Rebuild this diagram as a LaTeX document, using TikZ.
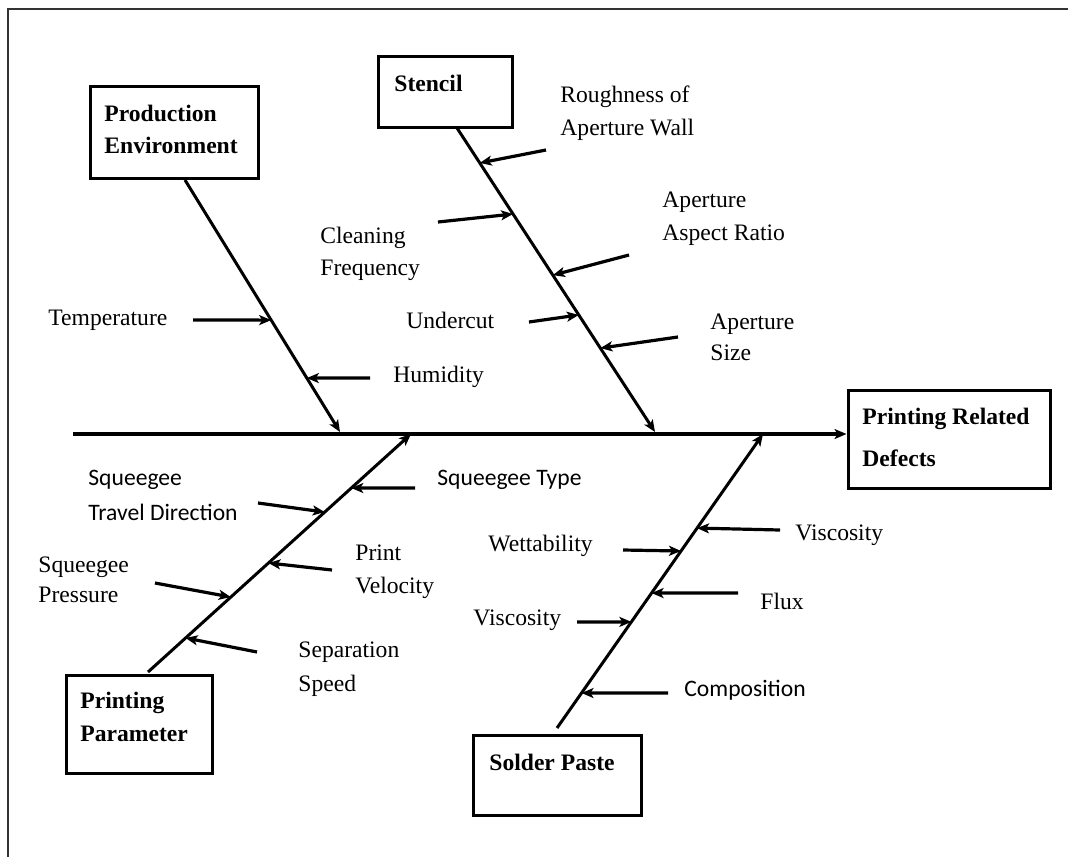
\documentclass[tikz,border=0pt]{standalone}
\usepackage{fontspec}
\setmainfont{Liberation Serif}
\newfontfamily\sansf{Carlito}
\usetikzlibrary{arrows.meta,calc}
\begin{document}
\begin{tikzpicture}[x=0.5pt,y=-0.5pt,
  box/.style={draw,line width=1.5pt,inner sep=0pt},
  lbl/.style={anchor=west,inner sep=0pt,align=left,font=\fontsize{11.8}{16}\selectfont},
  slbl/.style={lbl,font=\fontsize{11.8}{17.5}\selectfont\sansf},
  head/.style={lbl,font=\fontsize{11.8}{16}\selectfont\bfseries},
  bone/.style={line width=1.5pt,-{Stealth[length=6pt,width=5pt,inset=1.5pt]}},
  cause/.style={line width=1.6pt,-{Stealth[length=6pt,width=5pt,inset=1.5pt]}}]
\useasboundingbox (0,0) rectangle (1068,856);
% frame
\draw[line width=1pt,black!80] (8,870) -- (8,9) -- (1080,9);

% boxes
\node[box,minimum width=84pt,minimum height=45.5pt] (pe) at (174,132.5) {};
\node[box,minimum width=67pt,minimum height=35pt] (st) at (445,92) {};
\node[box,minimum width=101pt,minimum height=49pt] (prd) at (949,439) {};
\node[box,minimum width=73pt,minimum height=49pt] (pp) at (139,724) {};
\node[box,minimum width=84pt,minimum height=40pt] (sp) at (557,775) {};

\node[head] (peT) at (104,129) {Production\\Environment};
\node[head] (stT) at (394,83) {Stencil};
\node[head,font=\fontsize{11.8}{21}\selectfont\bfseries] (prdT) at (862,437) {Printing Related\\Defects};
\node[head,font=\fontsize{11.8}{16.5}\selectfont\bfseries] (ppT) at (80,716.5) {Printing\\Parameter};
\node[head] (spT) at (489,762) {Solder Paste};

% spine
\coordinate (tail) at (73,434);
\draw[line width=1.6pt,-{Stealth[length=6pt,width=5pt,inset=1.5pt]}] (tail) -- (tail -| prd.west);

% branches
\coordinate (peA) at (185,180);
\coordinate (peB) at (340,432);
\coordinate (stA) at (457,128);
\coordinate (stB) at (655,432);
\coordinate (ppA) at (148,672);
\coordinate (ppB) at (411,434);
\coordinate (spA) at (557,728);
\coordinate (spB) at (763,434);
\draw[bone] (peA) -- (peB);
\draw[bone] (stA) -- (stB);
\draw[bone] (ppA) -- (ppB);
\draw[bone] (spA) -- (spB);

% production environment causes
\node[lbl] (temp) at (48,320) {Temperature};
\node[lbl] (hum) at (393,377) {Humidity};
\coordinate (t1) at (193,320);
\coordinate (t2) at (370,378);
\draw[cause] (t1) -- ($(peA)!0.556!(peB)$);
\draw[cause] (t2) -- ($(peA)!0.786!(peB)$);

% stencil causes
\node[lbl,font=\fontsize{11.8}{16.5}\selectfont] (rough) at (560,113.5) {Roughness of\\Aperture Wall};
\node[lbl] (clean) at (320,254) {Cleaning\\Frequency};
\node[lbl,font=\fontsize{11.8}{16.5}\selectfont] (aspect) at (662,218.5) {Aperture\\Aspect Ratio};
\node[lbl] (under) at (406,320) {Undercut};
\node[lbl,font=\fontsize{11.8}{15.5}\selectfont] (size) at (710,337.5) {Aperture\\Size};
\coordinate (s1) at (546,150);
\coordinate (s2) at (438,222);
\coordinate (s3) at (629,255);
\coordinate (s4) at (529,322);
\coordinate (s5) at (678,337);
\draw[cause] (s1) -- ($(stA)!0.115!(stB)$);
\draw[cause] (s2) -- ($(stA)!0.283!(stB)$);
\draw[cause] (s3) -- ($(stA)!0.484!(stB)$);
\draw[cause] (s4) -- ($(stA)!0.615!(stB)$);
\draw[cause] (s5) -- ($(stA)!0.724!(stB)$);

% printing parameter causes
\node[slbl] (travel) at (88,495.5) {Squeegee\\Travel Direction};
\node[slbl] (sqtype) at (437,480) {Squeegee Type};
\node[lbl,font=\fontsize{11.8}{16.5}\selectfont] (vel) at (355,571.5) {Print\\Velocity};
\node[lbl,font=\fontsize{11.8}{15}\selectfont] (press) at (38,580) {Squeegee\\Pressure};
\node[lbl,font=\fontsize{11.8}{17}\selectfont] (sep) at (298,669) {Separation\\Speed};
\coordinate (p1) at (415,488);
\coordinate (p2) at (258,503);
\coordinate (p3) at (332,570);
\coordinate (p4) at (155,583);
\coordinate (p5) at (257,652);
\draw[cause] (p1) -- ($(ppA)!0.773!(ppB)$);
\draw[cause] (p2) -- ($(ppA)!0.672!(ppB)$);
\draw[cause] (p3) -- ($(ppA)!0.458!(ppB)$);
\draw[cause] (p4) -- ($(ppA)!0.315!(ppB)$);
\draw[cause] (p5) -- ($(ppA)!0.143!(ppB)$);

% solder paste causes
\node[lbl] (viscR) at (795,535) {Viscosity};
\node[lbl] (wet) at (488,546) {Wettability};
\node[lbl] (flux) at (760,601) {Flux};
\node[lbl] (viscL) at (473,620) {Viscosity};
\node[slbl] (comp) at (684,690) {Composition};
\coordinate (q1) at (780,530);
\coordinate (q2) at (623,550);
\coordinate (q3) at (738,593);
\coordinate (q4) at (577,622);
\coordinate (q5) at (668,693);
\draw[cause] (q1) -- ($(spA)!0.680!(spB)$);
\draw[cause] (q2) -- ($(spA)!0.602!(spB)$);
\draw[cause] (q3) -- ($(spA)!0.459!(spB)$);
\draw[cause] (q4) -- ($(spA)!0.361!(spB)$);
\draw[cause] (q5) -- ($(spA)!0.119!(spB)$);
\end{tikzpicture}
\end{document}
